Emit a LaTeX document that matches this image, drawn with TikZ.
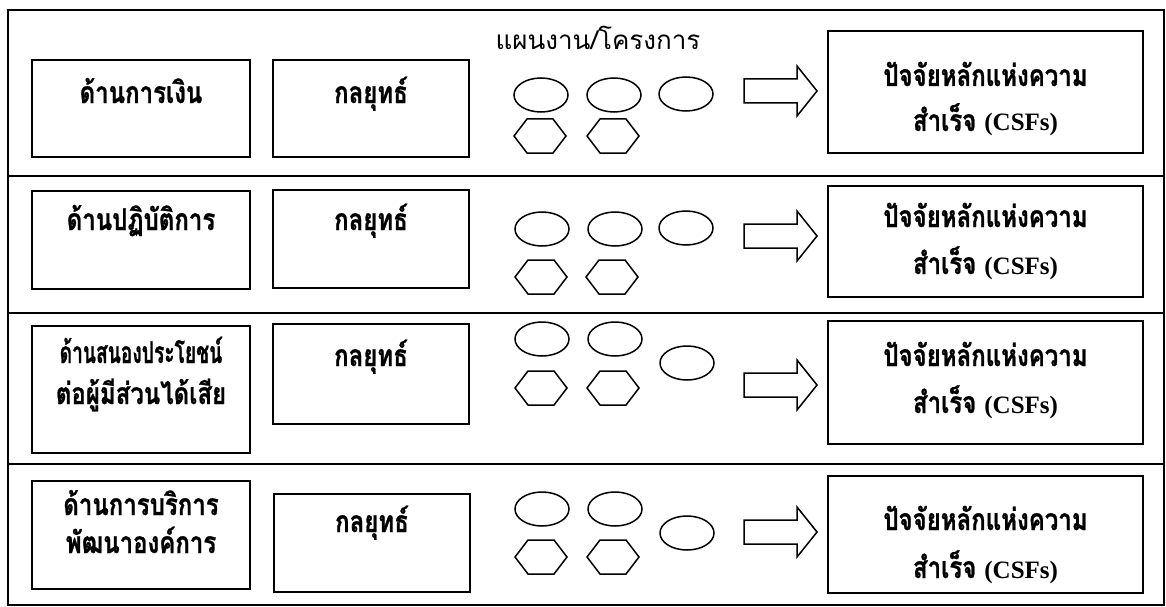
\documentclass[tikz,border=0pt]{standalone}
\usepackage{graphicx}
\usepackage{fontspec}
\newfontfamily\thaifont[Script=Thai]{Loma}
\newfontfamily\thainarrow[Script=Thai,FakeStretch=0.8,BoldFeatures={FakeBold=0.8}]{Loma}
\newfontfamily\romanfont{Liberation Serif}
\newcommand\latinbold{\romanfont\bfseries\fontsize{25}{28}\selectfont}
\usetikzlibrary{shapes.geometric}

% a rectangular box given by its centre and size (in px units)
\newcommand\mkbox[5]{%
  \node[box, minimum width=#4, minimum height=#5] (#1) at (#2,#3) {};}
% flattened hexagon around a named centre
\newcommand\hexat[3]{%
  \coordinate (#1) at (#2,#3);
  \draw[hexline] (#1) ++(-26,0) -- ++(13,-17) -- ++(26,0) -- ++(13,17)
     -- ++(-13,17) -- ++(-26,0) -- cycle;}
% hollow block arrow, tail at x=744
\newcommand\blockarr[2]{%
  \coordinate (#1) at (744,#2);
  \draw[blockarrow] (#1) ++(0,-12) -- ++(53,0) -- ++(0,-13) -- ++(20,25)
     -- ++(-20,25) -- ++(0,-13) -- ++(-53,0) -- cycle;}

\begin{document}
\begin{tikzpicture}[x=1pt,y=-1pt,
  frameline/.style={line width=1.4pt},
  box/.style={draw, line width=1.5pt, inner sep=0pt},
  plan/.style={draw, ellipse, line width=1.5pt, minimum width=54pt,
    minimum height=34pt, inner sep=0pt},
  hexline/.style={line width=1.5pt, line join=miter},
  blockarrow/.style={line width=1.5pt, line join=miter},
  lbl/.style={font=\thainarrow\bfseries\fontsize{30}{34}\selectfont,
    inner sep=0pt, anchor=base},
  headlbl/.style={font=\thaifont\fontsize{26}{30}\selectfont,
    inner sep=0pt, anchor=base}]
\fill[white] (0,0) rectangle (1166,607);
\useasboundingbox (0,0) rectangle (1166,607);

% outer frame and row separators
\draw[frameline] (8,10) rectangle (1164,605);
\foreach \yy in {176,313,464} \draw[frameline] (8,\yy) -- (1164,\yy);

% column header
\node[headlbl] (plans) at (598,50) {แผนงาน/โครงการ};

% ---- row 1 : finance
\mkbox{persp1}{141}{108.5}{218}{97}
\mkbox{strat1}{371}{108.5}{196}{97}
\mkbox{factor1}{985.5}{92}{315}{122}
\node[lbl] (persp1t) at (141,103) {ด้านการเงิน};
\node[lbl] (strat1t) at (371,103) {กลยุทธ์};
\node[lbl] (factor1a) at (985.5,86) {ปัจจัยหลักแห่งความ};
\node[lbl] (factor1b) at (985.5,131) {สำเร็จ {\latinbold(CSFs)}};
\node[plan] (p1a) at (541,95) {};
\node[plan] (p1b) at (614,95) {};
\node[plan] (p1c) at (686,94) {};
\hexat{h1a}{540}{136}
\hexat{h1b}{613}{136}
\blockarr{arr1}{91}

% ---- row 2 : operations
\mkbox{persp2}{141}{240}{218}{98}
\mkbox{strat2}{371}{239}{196}{98}
\mkbox{factor2}{985.5}{241.5}{315}{111}
\node[lbl] (persp2t) at (141,230) {ด้านปฏิบัติการ};
\node[lbl] (strat2t) at (371,230) {กลยุทธ์};
\node[lbl] (factor2a) at (985.5,227) {ปัจจัยหลักแห่งความ};
\node[lbl] (factor2b) at (985.5,274) {สำเร็จ {\latinbold(CSFs)}};
\node[plan] (p2a) at (542,229) {};
\node[plan] (p2b) at (615,229) {};
\node[plan] (p2c) at (686,228) {};
\hexat{h2a}{541}{277}
\hexat{h2b}{612}{277}
\blockarr{arr2}{236}

% ---- row 3 : stakeholders
\mkbox{persp3}{141}{389.5}{218}{127}
\mkbox{strat3}{371}{374}{196}{100}
\mkbox{factor3}{985.5}{382.5}{315}{123}
\node[lbl] (persp3a) at (141,363) {\scalebox{0.8}[1]{ด้านสนองประโยชน์}};
\node[lbl] (persp3b) at (141,404) {ต่อผู้มีส่วนได้เสีย};
\node[lbl] (strat3t) at (371,366) {กลยุทธ์};
\node[lbl] (factor3a) at (985.5,366) {ปัจจัยหลักแห่งความ};
\node[lbl] (factor3b) at (985.5,413) {สำเร็จ {\latinbold(CSFs)}};
\node[plan] (p3a) at (542,339) {};
\node[plan] (p3b) at (615,339) {};
\node[plan] (p3c) at (687,363) {};
\hexat{h3a}{541}{388}
\hexat{h3b}{613}{388}
\blockarr{arr3}{385}

% ---- row 4 : service and development
\mkbox{persp4}{141}{535}{218}{108}
\mkbox{strat4}{372}{543}{196}{98}
\mkbox{factor4}{985.5}{534.5}{315}{117}
\node[lbl] (persp4a) at (141,515) {ด้านการบริการ};
\node[lbl] (persp4b) at (141,553) {พัฒนาองค์การ};
\node[lbl] (strat4t) at (372,532) {กลยุทธ์};
\node[lbl] (factor4a) at (985.5,530) {ปัจจัยหลักแห่งความ};
\node[lbl] (factor4b) at (985.5,578) {สำเร็จ {\latinbold(CSFs)}};
\node[plan] (p4a) at (542,509) {};
\node[plan] (p4b) at (615,509) {};
\node[plan] (p4c) at (687,533) {};
\hexat{h4a}{541}{557}
\hexat{h4b}{613}{557}
\blockarr{arr4}{532}
\end{tikzpicture}
\end{document}
